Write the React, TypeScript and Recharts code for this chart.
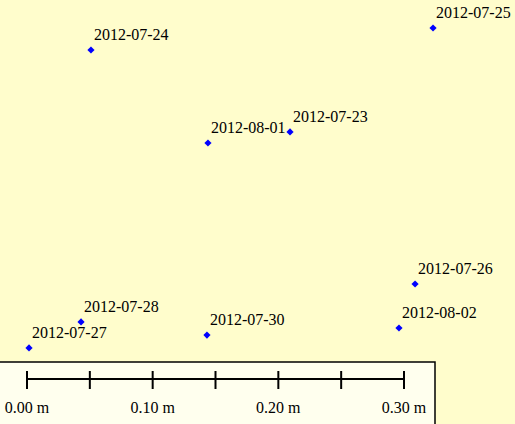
import React from 'react';
import { ScatterChart, Scatter, XAxis, YAxis, ReferenceArea, ReferenceLine } from 'recharts';

// survey points (metres)
const dates = ['2012-07-23', '2012-07-24', '2012-07-25', '2012-07-26', '2012-07-27', '2012-07-28', '2012-07-30', '2012-08-01', '2012-08-02'];
const xs = [0.2093, 0.0509, 0.3231, 0.3088, 0.0016, 0.0430, 0.1432, 0.1440, 0.2960];
const ys = [0.2324, 0.2976, 0.3151, 0.1114, 0.0605, 0.0812, 0.0708, 0.2236, 0.0764];

// scale bar
const scaleTicks = [0, 0.05, 0.1, 0.15, 0.2, 0.25, 0.3];
const scaleLabelValues = [0, 0.1, 0.2, 0.3];
const scaleLabels = ['0.00 m', '0.10 m', '0.20 m', '0.30 m'];

const W = 515;
const H = 424;
const PX_PER_M = 1256.67;
const X0 = 27;
const xDomain = [-X0 / PX_PER_M, (W - X0) / PX_PER_M];
const yDomain = [0, H / PX_PER_M];
const m = (px: number) => px / PX_PER_M;

const pointData = dates.map((d, i) => ({ x: xs[i], y: ys[i], label: d }));
const labelData = scaleLabelValues.map((v, i) => ({ x: v, y: m(424 - 413), label: scaleLabels[i] }));

const barY = m(424 - 379);
const tickTop = m(424 - 371);
const tickBottom = m(424 - 389);

const font = '"Liberation Serif", "Times New Roman", serif';

const PointShape = (props: any) => {
  const { cx, cy, payload } = props;
  const r = 3.6;
  return (
    <g>
      <polygon points={`${cx},${cy - r} ${cx + r},${cy} ${cx},${cy + r} ${cx - r},${cy}`} fill="#0000ff" />
      <text x={cx + 3} y={cy - 10} fontFamily={font} fontSize={16} fill="#000">{payload.label}</text>
    </g>
  );
};

const LabelShape = (props: any) => {
  const { cx, cy, payload } = props;
  return (
    <text x={cx} y={cy} textAnchor="middle" fontFamily={font} fontSize={16} fill="#000">{payload.label}</text>
  );
};

export default function App() {
  return (
    <div style={{ position: 'absolute', left: 0, top: 0, width: W, height: H, background: '#FFFDCC' }}>
      <ScatterChart width={W} height={H} margin={{ top: 0, right: 0, bottom: 0, left: 0 }}>
        <XAxis type="number" dataKey="x" domain={xDomain} hide allowDataOverflow />
        <YAxis type="number" dataKey="y" domain={yDomain} hide allowDataOverflow />
        <ReferenceArea
          x1={xDomain[0] - m(5)}
          x2={m(435 - X0)}
          y1={-m(5)}
          y2={m(424 - 362)}
          fill="#FFFFEE"
          fillOpacity={1}
          stroke="#000"
          strokeWidth={1.5}
          ifOverflow="visible"
        />
        <ReferenceLine
          segment={[{ x: 0, y: barY }, { x: 0.3, y: barY }]}
          stroke="#000"
          strokeWidth={2}
          ifOverflow="visible"
        />
        {scaleTicks.map((t) => (
          <ReferenceLine
            key={t}
            segment={[{ x: t, y: tickTop }, { x: t, y: tickBottom }]}
            stroke="#000"
            strokeWidth={2}
            ifOverflow="visible"
          />
        ))}
        <Scatter data={labelData} shape={LabelShape} isAnimationActive={false} />
        <Scatter data={pointData} shape={PointShape} isAnimationActive={false} />
      </ScatterChart>
    </div>
  );
}
